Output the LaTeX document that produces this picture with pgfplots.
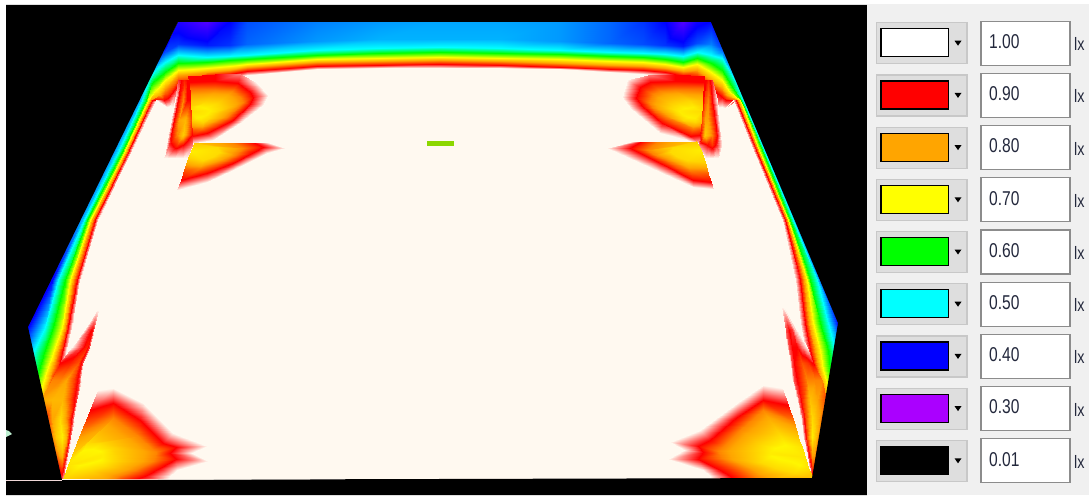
\documentclass[border=0pt]{standalone}
\usepackage{pgfplots}
\usepackage{fontspec}
\setmainfont{Liberation Sans}
\pgfplotsset{compat=1.18}
\definecolor{cream}{RGB}{255,249,240}
\definecolor{panel}{RGB}{240,240,240}
\definecolor{btn}{RGB}{222,222,222}
\definecolor{btnb}{RGB}{200,200,200}
\definecolor{boxb}{RGB}{140,140,140}
\definecolor{ink}{RGB}{35,40,60}
\definecolor{sworange}{RGB}{255,165,0}
\definecolor{swviolet}{RGB}{170,0,255}
\definecolor{swyellow}{RGB}{255,255,0}
\definecolor{swcyan}{RGB}{0,255,255}
\definecolor{swgreen}{RGB}{0,255,0}
\definecolor{swred}{RGB}{255,0,0}
\definecolor{swblue}{RGB}{0,0,255}
\definecolor{limeb}{RGB}{140,215,0}
\definecolor{pinkl}{RGB}{240,215,215}
\definecolor{paleg}{RGB}{190,240,210}
\pgfplotsset{fld/.style={surf,shader=interp,point meta=explicit,forget plot}}
\newcommand{\legrow}[3]{%
 \fill[btn,draw=btnb,line width=1.2pt] (876.5,#1-20.5) rectangle (967,#1+20.5);
 \fill[#2,draw=black,line width=1.2pt] (881,#1-14.5) rectangle (948.5,#1+13.5);
 \fill[black] (954.5,#1-2.5) -- (961.5,#1-2.5) -- (958,#1+2.5) -- cycle;
 \fill[white,draw=boxb,line width=1.2pt] (981,#1-22) rectangle (1070,#1+22);
 \node[anchor=west,inner sep=0pt,text=ink,xscale=0.78,font=\fontsize{20}{20}\selectfont] at (989,#1-1.5) {#3};
 \node[anchor=west,inner sep=0pt,text=ink,xscale=0.8,font=\fontsize{18}{18}\selectfont] at (1074,#1+1) {lx};
}
\begin{document}
\begin{tikzpicture}
\begin{axis}[at={(0,0)},anchor=south west,width=1089pt,height=495pt,scale only axis,
 xmin=0,xmax=1089,ymin=0,ymax=495,y dir=reverse,axis lines=none,enlargelimits=false,
 point meta min=0.3,point meta max=1,
 colormap={lux}{rgb255(30)=(170,0,255) rgb255(40)=(0,0,255) rgb255(50)=(0,255,255) rgb255(60)=(0,255,0) rgb255(70)=(255,255,0) rgb255(80)=(255,165,0) rgb255(90)=(255,0,0) rgb255(100)=(255,249,240)}]
% page
\fill[white] (0,0) rectangle (1089,495);
% base shape
\addplot[fill=cream,draw=none,forget plot] coordinates {(178,22)(711,22)(838,323)(812,478)(62,480)(28,327)} --cycle;
% perimeter band: one line per station, outer edge to interior
\addplot[fld,mesh/cols=8] coordinates {
(20,400)[0.35](22,400)[0.42](24,400)[0.5](30,400)[0.6](38,400)[0.7](43,400)[0.8](48,400)[0.88](52,400)[0.95]
(18,383)[0.35](22,383)[0.42](27,383)[0.5](34,383)[0.6](43,383)[0.7](48,383)[0.8](53,383)[0.9](58,383)[1]
(20,370)[0.35](25,370)[0.42](30,370)[0.5](39,370)[0.6](47,370)[0.7](52,370)[0.8](58,370)[0.9](62,370)[1]
(20,353)[0.33](26,353)[0.42](33,353)[0.5](44,353)[0.6](53,353)[0.7](57,353)[0.8](62,353)[0.9](66,353)[1]
(20,327)[0.35](28,327)[0.4](45,327)[0.5](53,327)[0.6](62,327)[0.7](65,327)[0.8](68,327)[0.9](72,327)[1]
(45,280)[0.38](52,280)[0.4](58,280)[0.5](65,280)[0.6](70,280)[0.7](73,280)[0.8](77,280)[0.9](80,280)[1]
(78,220)[0.45](82,220)[0.47](84,220)[0.5](87,220)[0.6](90,220)[0.7](92,220)[0.8](95,220)[0.9](98,220)[1]
(113,150)[0.45](116,150)[0.47](119,150)[0.5](123,150)[0.6](125,150)[0.7](127,150)[0.8](129,150)[0.9](132,150)[1]
(136,100)[0.45](140,100)[0.47](142,100)[0.5](146,100)[0.6](148,100)[0.7](150,100)[0.8](152,100)[0.9](156,100)[1]
(146,80)[0.5](150,80)[0.53](151,81)[0.56](152,83)[0.6](156,90)[0.7](160,95)[0.8](164,100)[0.9](167,107)[1]
(165,47)[0.4](165,52)[0.43](165,62)[0.5](165,72)[0.6](165,80)[0.7](165,88)[0.8](168,98)[0.9](170,106)[1]
(178,21)[0.38](178,44)[0.42](178,55)[0.5](178,63)[0.6](178,70)[0.7](178,75)[0.8](178,85)[0.9](178,108)[1]
(207,21)[0.35](207,45)[0.41](207,57)[0.5](207,62)[0.6](207,68)[0.7](207,72)[0.8](207,76)[0.9](207,82)[1]
(230,21)[0.4](230,45)[0.42](230,55.5)[0.5](230,60.5)[0.6](230,66)[0.7](230,70)[0.8](230,74)[0.9](230,79)[1]
(247,21)[0.43](247,44)[0.44](247,55)[0.5](247,59)[0.6](247,64)[0.7](247,67)[0.8](247,71)[0.9](247,75)[1]
(317,21)[0.45](317,41)[0.46](317,50)[0.5](317,55)[0.6](317,59)[0.7](317,62)[0.8](317,66)[0.9](317,69)[1]
(380,21)[0.46](380,39)[0.47](380,48)[0.5](380,53)[0.6](380,58)[0.7](380,61)[0.8](380,65)[0.9](380,68)[1]
(440,21)[0.465](440,39)[0.47](440,47)[0.5](440,52)[0.6](440,57)[0.7](440,60)[0.8](440,64)[0.9](440,68)[1]
(500,21)[0.465](500,39)[0.47](500,48)[0.5](500,53)[0.6](500,58)[0.7](500,61)[0.8](500,65)[0.9](500,68)[1]
(560,21)[0.46](560,41)[0.46](560,50)[0.5](560,54)[0.6](560,59)[0.7](560,63)[0.8](560,67)[0.9](560,69)[1]
(610,21)[0.44](610,43)[0.44](610,52)[0.5](610,56)[0.6](610,61)[0.7](610,65)[0.8](610,68.5)[0.9](610,72)[1]
(643,21)[0.42](643,44)[0.43](643,53)[0.5](643,57)[0.6](643,62)[0.7](643,66)[0.8](643,70)[0.9](643,74)[1]
(665,21)[0.4](665,45)[0.42](665,54)[0.5](665,58.5)[0.6](665,64)[0.7](665,68)[0.8](665,72)[0.9](665,77)[1]
(683,21)[0.35](683,46)[0.41](683,56)[0.5](683,62)[0.6](683,67)[0.7](683,71)[0.8](683,76)[0.9](683,82)[1]
(697,21)[0.39](697,43)[0.43](697,52)[0.5](697,58)[0.6](697,64)[0.7](697,70)[0.8](697,78)[0.9](697,90)[1]
(711,21)[0.4](711,44)[0.45](711,55)[0.5](711,63)[0.6](711,72)[0.7](711,80)[0.8](711,88)[0.9](711,108)[1]
(723,47)[0.42](722,52)[0.45](722,58)[0.5](722,70)[0.6](722,80)[0.7](722,88)[0.8](722,97)[0.9](722,107)[1]
(738,80)[0.48](735,81)[0.5](734,82)[0.53](731,85)[0.6](729,91)[0.7](727,95)[0.8](726,100)[0.9](725,108)[1]
(748,100)[0.45](745,100)[0.47](743,100)[0.5](741,100)[0.6](739.5,100)[0.7](738,100)[0.8](736,100)[0.9](733,100)[1]
(769,150)[0.45](765,150)[0.47](763.5,150)[0.5](761.5,150)[0.6](759,150)[0.7](757.5,150)[0.8](756,150)[0.9](753,150)[1]
(798,220)[0.45](795,220)[0.47](792.5,220)[0.5](790,220)[0.6](788,220)[0.7](786.5,220)[0.8](785,220)[0.9](782,220)[1]
(826,280)[0.38](822,280)[0.4](817,280)[0.5](810,280)[0.6](807,280)[0.7](803.5,280)[0.8](800,280)[0.9](795,280)[1]
(850,323)[0.35](838,323)[0.4](828,323)[0.5](820,323)[0.6](813,323)[0.7](809,323)[0.8](805,323)[0.9](800,323)[1]
(855,350)[0.33](845,350)[0.42](835,350)[0.5](828,350)[0.6](820,350)[0.7](815,350)[0.8](810,350)[0.9](805,350)[1]
(855,370)[0.35](845,370)[0.42](838,370)[0.5](830,370)[0.6](823,370)[0.7](819,370)[0.8](815,370)[0.9](810,370)[1]
(855,383)[0.35](848,383)[0.42](842,383)[0.5](834,383)[0.6](827,383)[0.7](822,383)[0.8](817,383)[0.9](813,383)[1]
(855,400)[0.35](850,400)[0.42](845,400)[0.5](838,400)[0.6](831,400)[0.7](826,400)[0.8](821,400)[0.88](817,400)[0.95]
};
% top-left flame
\addplot[fld,mesh/cols=9] coordinates {
(188,76)[0.9](215,74)[0.9](240,74)[0.95](257,83)[1](268,95)[1](263,105)[1](240,123)[1](213,140)[1](190,143)[0.98]
(189,82)[0.9](215,81)[0.9](238,83)[0.9](250,92)[0.9](253,97)[0.9](250,104)[0.9](233,120)[0.9](207,133)[0.9](190,138)[0.92]
(190,88)[0.84](215,90)[0.82](232,91)[0.82](240,97)[0.82](243,102)[0.82](238,107)[0.82](227,117)[0.82](202,128)[0.82](190,130)[0.85]
(190,100)[0.77](205,102)[0.745](217,103)[0.745](220,107)[0.745](220,110)[0.745](215,113)[0.745](210,118)[0.745](203,122)[0.745](190,122)[0.77]
(190,106)[0.75](198,106)[0.72](205,108)[0.715](210,110)[0.72](209,112)[0.72](206,115)[0.72](200,117)[0.715](196,118)[0.72](190,116)[0.75]
(190,111)[0.74](190,111)[0.74](190,111)[0.74](190,111)[0.74](190,111)[0.74](190,111)[0.74](190,111)[0.74](190,111)[0.74](190,111)[0.74]
};
% top-left strip
\addplot[fld,mesh/cols=5] coordinates {
(178,80)[0.92](181,80)[0.9](184,80)[0.88](187,80)[0.9](189,80)[0.9]
(175,100)[1](178,100)[0.9](183,100)[0.82](187,100)[0.9](190,100)[0.9]
(171,120)[1](174,120)[0.9](179,120)[0.8](185,120)[0.78](191,120)[0.85]
(168,135)[1](171,135)[0.9](177,135)[0.82](183,135)[0.76](192,135)[0.9]
(166,145)[1](169,145)[0.92](177,145)[0.87](183,145)[0.9](192,145)[0.95]
(164,158)[1](167,158)[1](175,158)[1](183,158)[1](187,158)[1]
};
% top-left triangle
\addplot[fld,mesh/cols=6] coordinates {
(270,142.5)[1](285,148)[1](267,153)[1](233,170)[1](207,182)[1](177,190)[1]
(255,142.5)[0.9](263,147)[0.9](252,153)[0.9](233,163)[0.9](207,173)[0.9](181,180)[0.9]
(233,142.5)[0.82](243,148)[0.82](235,155)[0.82](225,160)[0.82](200,168)[0.82](184,170)[0.85]
(194,142.5)[0.76](217,147)[0.74](220,152)[0.74](212,157)[0.74](203,160)[0.74](188,158)[0.75]
(190.5,151)[0.72](190.5,151)[0.72](190.5,151)[0.72](190.5,151)[0.72](190.5,151)[0.72](190.5,151)[0.72]
};
% top-right flame
\addplot[fld,mesh/cols=9] coordinates {
(704,76)[0.9](675,74)[0.9](648,75)[0.95](627,80)[1](622,97)[1](630,108)[1](660,133)[1](687,140)[1](699,143)[0.98]
(704,82)[0.9](675,81)[0.9](650,82)[0.9](640,87)[0.9](636,98)[0.9](642,106)[0.9](662,123)[0.9](690,136)[0.9](700,137)[0.92]
(703,88)[0.84](675,90)[0.82](660,91)[0.82](653,94)[0.82](649,102)[0.82](653,108)[0.82](667,117)[0.82](693,128)[0.82](701,129)[0.85]
(702,100)[0.77](690,101)[0.745](678,103)[0.745](673,105)[0.745](670,108)[0.745](674,112)[0.745](683,120)[0.745](695,122)[0.745](701,122)[0.77]
(702,106)[0.75](693,107)[0.72](685,108)[0.715](680,110)[0.72](679,111)[0.72](682,114)[0.72](688,117)[0.715](695,118)[0.72](701,116)[0.75]
(702,111)[0.74](702,111)[0.74](702,111)[0.74](702,111)[0.74](702,111)[0.74](702,111)[0.74](702,111)[0.74](702,111)[0.74](702,111)[0.74]
};
% top-right strip
\addplot[fld,mesh/cols=5] coordinates {
(704,80)[0.9](706,80)[0.9](708,80)[0.88](710,80)[0.9](712,80)[0.92]
(703,100)[0.9](705,100)[0.85](708,100)[0.82](712,100)[0.9](717,100)[1]
(702,120)[0.85](705,120)[0.8](708,120)[0.8](715,120)[0.9](719,120)[1]
(700,135)[0.9](705,135)[0.76](712,135)[0.82](717,135)[0.9](721,135)[1]
(699,145)[0.95](707,145)[0.9](712,145)[0.87](717,145)[0.92](722,145)[1]
(706,158)[1](710,158)[1](714,158)[1](719,158)[1](724,158)[1]
};
% top-right triangle
\addplot[fld,mesh/cols=6] coordinates {
(630,142)[1](607,148)[1](627,157)[1](660,172)[1](693,187)[1](713,188.5)[1]
(640,142)[0.9](630,148)[0.9](640,153)[0.9](660,163)[0.9](693,180)[0.9](711,182)[0.9]
(657,142)[0.82](647,150)[0.82](655,155)[0.82](667,160)[0.82](690,170)[0.82](708,174)[0.85]
(696,141)[0.76](673,147)[0.74](670,152)[0.74](678,157)[0.74](687,160)[0.74](705,162)[0.75]
(701,150)[0.72](701,150)[0.72](701,150)[0.72](701,150)[0.72](701,150)[0.72](701,150)[0.72]
};
% lower-left spike
\addplot[fld,mesh/cols=6] coordinates {
(96,310)[1](96.5,310)[1](97,310)[1](97.5,310)[1](97.7,310)[1](98,310)[1]
(84,330)[1](88,330)[0.93](91,330)[0.9](92,330)[0.9](93,330)[0.92](94,330)[1]
(72,347)[1](80,347)[0.93](85,347)[0.89](87,347)[0.88](89.5,347)[0.92](90.5,347)[1]
(60,363)[0.9](70,363)[0.88](75,363)[0.86](78,363)[0.85](82,363)[0.92](83.5,363)[1]
(52,380)[0.82](60,380)[0.82](66,380)[0.8](74,380)[0.86](79.5,380)[0.92](81,380)[1]
(40,400)[0.8](52,400)[0.78](62,400)[0.78](70,400)[0.85](76,400)[0.92](77.5,400)[1]
(46,420)[0.88](52,420)[0.8](60,420)[0.74](67,420)[0.82](72.5,420)[0.92](74,420)[1]
(50,437)[0.85](56,437)[0.76](62,437)[0.72](66,437)[0.78](70,437)[0.92](71.5,437)[1]
(55,455)[0.85](59,455)[0.8](62,455)[0.78](65,455)[0.86](67,455)[0.93](68,455)[1]
(59,470)[0.9](61,470)[0.88](62,470)[0.88](63.5,470)[0.9](64.5,470)[0.93](65,470)[1]
(60,482)[0.95](61,482)[0.95](62,482)[0.95](62.5,482)[0.95](63,482)[0.97](63.5,482)[1]
};
% lower-right spike
\addplot[fld,mesh/cols=6] coordinates {
(781,307)[1](781.5,307)[1](782,307)[1](782.5,307)[1](783,307)[1](784,307)[1]
(784.5,330)[1](785.5,330)[0.93](789,330)[0.9](792,330)[0.92](795,330)[0.98](797,330)[1]
(787,347)[1](788.5,347)[0.93](792,347)[0.9](797,347)[0.9](802,347)[0.95](807,347)[1]
(790,363)[1](791.5,363)[0.93](794,363)[0.9](802,363)[0.85](808,363)[0.87](812,363)[0.9]
(792,380)[1](793.5,380)[0.93](797,380)[0.9](807,380)[0.82](815,380)[0.82](822,380)[0.82]
(797,400)[1](798.5,400)[0.93](802,400)[0.88](810,400)[0.77](817,400)[0.8](826,400)[0.86]
(801,420)[1](802.5,420)[0.93](805.5,420)[0.85](812,420)[0.74](817,420)[0.78](824,420)[0.86]
(803,437)[1](804.5,437)[0.93](807,437)[0.85](812,437)[0.72](815,437)[0.76](820,437)[0.85]
(807,455)[1](808,455)[0.93](809.5,455)[0.87](812,455)[0.8](813.5,455)[0.8](818,455)[0.85]
(810,470)[1](811,470)[0.93](811.5,470)[0.9](812,470)[0.88](813,470)[0.88](816,470)[0.9]
(812,482)[1](812.5,482)[0.95](813,482)[0.95](813.5,482)[0.95](814,482)[0.95](816,482)[0.95]
};
% bottom-left flame
\addplot[fld,mesh/cols=10] coordinates {
(98,390)[1](113,388)[1](143,403)[1](173,433)[1](207,446)[1](192,453)[1](208,461)[1](177,470)[1](170,476)[1](167,482)[1]
(90,410)[0.9](113,403)[0.9](140,420)[0.9](163,443)[0.9](176,447)[0.9](170,453)[0.9](176,459)[0.9](160,468)[0.9](145,476)[0.9](127,482)[0.9]
(81,432)[0.82](113,418)[0.82](138,436)[0.82](152,449)[0.82](156,452)[0.82](155,456)[0.82](153,461)[0.82](135,470)[0.82](118,476)[0.82](110,482)[0.82]
(72,455)[0.75](87,443)[0.74](100,443)[0.74](112,448)[0.745](116,453)[0.75](117,456)[0.75](115,461)[0.745](105,466)[0.74](90,470)[0.74](62,481)[0.76]
(70,460)[0.73](83,450)[0.71](93,449)[0.71](100,451)[0.71](103,454)[0.72](103,457)[0.72](100,460)[0.71](90,463)[0.71](80,465)[0.71](66,471)[0.74]
(68,465)[0.73](68,465)[0.73](68,465)[0.73](68,465)[0.73](68,465)[0.73](68,465)[0.73](68,465)[0.73](68,465)[0.73](68,465)[0.73](68,465)[0.73]
};
% bottom-right flame
\addplot[fld,mesh/cols=10] coordinates {
(782,388)[1](763,385)[1](737,403)[1](700,430)[1](670,442)[1](684,450)[1](668,459)[1](703,470)[1](710,476)[1](712,482)[1]
(788,405)[0.9](763,400)[0.9](737,417)[0.9](710,440)[0.9](698,446)[0.9](703,452)[0.9](698,459)[0.9](720,470)[0.9](730,476)[0.9](737,482)[0.9]
(794,422)[0.82](763,410)[0.82](740,430)[0.82](723,447)[0.82](718,451)[0.82](720,454)[0.82](722,458)[0.82](743,468)[0.82](755,476)[0.82](763,482)[0.82]
(799,440)[0.75](780,435)[0.74](762,445)[0.74](757,450)[0.745](755,453)[0.75](755,456)[0.75](760,462)[0.74](775,468)[0.74](795,473)[0.74](813,478)[0.78]
(802,447)[0.73](785,445)[0.71](775,448)[0.71](770,452)[0.72](769,454)[0.72](772,456)[0.71](780,459)[0.71](790,461)[0.71](800,465)[0.71](808,467)[0.73]
(805,457)[0.73](805,457)[0.73](805,457)[0.73](805,457)[0.73](805,457)[0.73](805,457)[0.73](805,457)[0.73](805,457)[0.73](805,457)[0.73](805,457)[0.73]
};
% small lime mark
\addplot[fill=limeb,draw=none,forget plot] coordinates {(427,141)(454,141)(454,146)(427,146)} --cycle;
% black surround
\addplot[fill=black,draw=none,forget plot] coordinates {(6,5)(867,5)(867,495)(6,495)(6,5)(178,22)(28,327)(62,480)(812,478)(838,323)(711,22)(178,22)} --cycle;
\addplot[draw=pinkl,line width=1pt,forget plot] coordinates {(6,480)(62,480)};
\addplot[draw=cream,line width=0.6pt,forget plot] coordinates {(62,479.5)(310,479)};
\addplot[fill=paleg,draw=none,forget plot] coordinates {(6,430)(9,431)(12,434)(8,436)(6,437)} --cycle;
% panel
\fill[panel] (867,4) rectangle (1089,495);
\legrow{43.2}{white}{1.00}
\legrow{95.4}{swred}{0.90}
\legrow{147.6}{sworange}{0.80}
\legrow{199.8}{swyellow}{0.70}
\legrow{252}{swgreen}{0.60}
\legrow{304.2}{swcyan}{0.50}
\legrow{356.4}{swblue}{0.40}
\legrow{408.6}{swviolet}{0.30}
\legrow{460.8}{black}{0.01}
\end{axis}
\end{tikzpicture}
\end{document}
